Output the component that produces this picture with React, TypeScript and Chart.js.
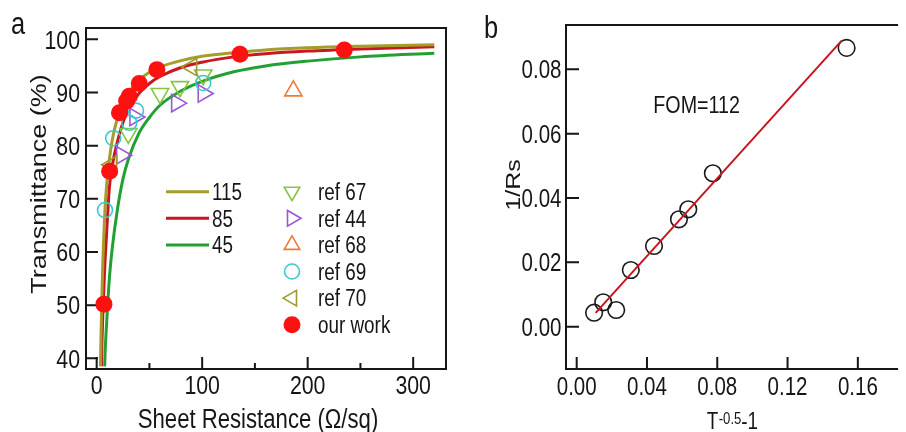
import React, { useEffect, useRef } from 'react';
import { Chart, registerables } from 'chart.js';
import { drawPoint } from 'chart.js/helpers';

Chart.register(...registerables);

// ---------- fonts / text ----------
const SX = 0.82;
const FAMILY = "'Liberation Sans', Arial, sans-serif";
const INK = '#161616';

// ---------- panel a data ----------
const aXTicks = [0, 100, 200, 300];
const aXTickLabels = ['0', '100', '200', '300'];
const aXMinorTicks = [50, 150, 250];
const aYTicks = [40, 50, 60, 70, 80, 90, 100];
const aYTickLabels = ['40', '50', '60', '70', '80', '90', '100'];

const curve115R = [3.6, 4.2, 5, 6, 7, 8, 10, 12, 15, 20, 25, 30, 40, 50, 60, 80, 100, 130, 160, 200, 250, 320];
const curve115T = [38.5, 45, 52, 59, 64, 68.5, 73.8, 77.4, 81.3, 85.4, 88.1, 89.9, 92.3, 93.8, 94.8, 96.0, 96.8, 97.5, 98.0, 98.4, 98.7, 99.0];
const curve85R = [4.5, 5, 6, 7, 8, 10, 12, 15, 20, 25, 30, 40, 50, 60, 80, 100, 130, 160, 200, 250, 320];
const curve85T = [38.5, 43, 49, 54, 58.5, 65.5, 72.0, 76.5, 81.0, 84.4, 86.7, 89.8, 91.7, 93.0, 94.7, 95.7, 96.7, 97.3, 97.8, 98.2, 98.6];
const curve45R = [7.6, 8, 10, 12, 15, 20, 25, 30, 40, 50, 60, 80, 100, 130, 160, 200, 250, 320];
const curve45T = [38.5, 41, 48.5, 54.9, 61.1, 68.4, 73.8, 77.4, 82.3, 85.3, 87.6, 90.3, 92.1, 93.9, 95.0, 95.9, 96.7, 97.4];

const ref67R = [30, 60, 79, 101];
const ref67T = [82.3, 89.8, 91.1, 93.3];
const ref44R = [23.7, 36.3, 75.8, 101];
const ref44T = [78.2, 85.4, 88.0, 89.8];
const ref68R = [186.4];
const ref68T = [90.3];
const ref69R = [7.9, 15.7, 30.9, 37.3, 101];
const ref69T = [67.9, 81.4, 84.3, 86.6, 91.8];
const ref70R = [14.2, 90];
const ref70T = [76.4, 94.8];
const ourR = [6.9, 12.3, 21.6, 28.4, 30.9, 40.4, 57.1, 135.8, 234.7];
const ourT = [50.2, 75.2, 86.2, 88.4, 89.3, 91.7, 94.3, 97.2, 98.0];

const curveNames = ['115', '85', '45'];
const curveColors = ['#a59c2a', '#c8171e', '#22a032'];

// ---------- panel b data ----------
const bXTicks = [0, 0.04, 0.08, 0.12, 0.16];
const bXTickLabels = ['0.00', '0.04', '0.08', '0.12', '0.16'];
const bYTicks = [0, 0.02, 0.04, 0.06, 0.08];
const bYTickLabels = ['0.00', '0.02', '0.04', '0.06', '0.08'];
const bX = [0.0099, 0.0151, 0.0225, 0.0308, 0.044, 0.0582, 0.0635, 0.0775, 0.1536];
const bY = [0.00435, 0.00758, 0.00519, 0.01762, 0.02508, 0.03338, 0.03649, 0.04768, 0.08665];
const fitX = [0.0108, 0.1508];
const fitY = [0.0043, 0.0889];

const pts = (xs: number[], ys: number[]) => xs.map((x, i) => ({ x, y: ys[i] }));

function txt(ctx: CanvasRenderingContext2D, s: string, x: number, y: number, size: number, align: CanvasTextAlign = 'left', rot = 0) {
  ctx.save();
  ctx.translate(x, y);
  if (rot) {
    ctx.rotate(rot);
    ctx.scale(1, SX);
  } else {
    ctx.scale(SX, 1);
  }
  ctx.font = `${size}px ${FAMILY}`;
  ctx.textAlign = align;
  ctx.textBaseline = 'alphabetic';
  ctx.fillStyle = INK;
  ctx.fillText(s, 0, 0);
  ctx.restore();
}

function txtWidth(ctx: CanvasRenderingContext2D, s: string, size: number) {
  ctx.save();
  ctx.font = `${size}px ${FAMILY}`;
  const w = ctx.measureText(s).width * SX;
  ctx.restore();
  return w;
}

const panelAPlugin = {
  id: 'panelA',
  beforeDatasetsDraw(chart: any) {
    const { ctx, chartArea: ca } = chart;
    const x = chart.scales.x;
    const y = chart.scales.y;
    ctx.save();
    ctx.strokeStyle = INK;
    ctx.lineWidth = 2;
    ctx.strokeRect(ca.left, ca.top, ca.right - ca.left, ca.bottom - ca.top);
    ctx.beginPath();
    aYTicks.forEach((v) => {
      const py = y.getPixelForValue(v);
      ctx.moveTo(ca.left, py);
      ctx.lineTo(ca.left + 12, py);
    });
    aXTicks.forEach((v) => {
      const px = x.getPixelForValue(v);
      ctx.moveTo(px, ca.bottom);
      ctx.lineTo(px, ca.bottom - 12);
    });
    aXMinorTicks.forEach((v) => {
      const px = x.getPixelForValue(v);
      ctx.moveTo(px, ca.bottom);
      ctx.lineTo(px, ca.bottom - 6);
    });
    ctx.stroke();
    ctx.restore();

    aYTicks.forEach((v, i) => txt(ctx, aYTickLabels[i], ca.left - 6, y.getPixelForValue(v) + 9.3, 26, 'right'));
    aXTicks.forEach((v, i) => txt(ctx, aXTickLabels[i], x.getPixelForValue(v), 393.5, 26, 'center'));
    txt(ctx, 'Sheet Resistance (\u03A9/sq)', 258, 427.5, 27, 'center');
    txt(ctx, 'Transmittance (%)', 46, 184, 27, 'center', -Math.PI / 2);
    txt(ctx, 'a', 11, 34, 31, 'left');
  },
  afterDatasetsDraw(chart: any) {
    const { ctx } = chart;
    const y0 = 191.7;
    const dy = 26.6;
    ctx.save();
    curveNames.forEach((n, i) => {
      const yy = y0 + i * dy;
      ctx.strokeStyle = curveColors[i];
      ctx.lineWidth = 3;
      ctx.beginPath();
      ctx.moveTo(166, yy);
      ctx.lineTo(209, yy);
      ctx.stroke();
      txt(ctx, n, 212, yy + 8.3, 23, 'left');
    });
    const markerSets = chart.data.datasets.filter((d: any) => d.legendRow !== undefined);
    markerSets.sort((a: any, b: any) => a.legendRow - b.legendRow);
    markerSets.forEach((d: any) => {
      const yy = y0 + d.legendRow * dy;
      ctx.save();
      ctx.fillStyle = d.backgroundColor;
      ctx.strokeStyle = d.borderColor;
      ctx.lineWidth = d.borderWidth;
      drawPoint(ctx, { pointStyle: d.pointStyle, rotation: d.rotation || 0, radius: d.legendRadius, borderWidth: d.borderWidth }, 292, yy);
      ctx.restore();
      txt(ctx, d.label, 318, yy + 8.3, 23, 'left');
    });
    ctx.restore();
  },
};

const panelBPlugin = {
  id: 'panelB',
  beforeDatasetsDraw(chart: any) {
    const { ctx, chartArea: ca } = chart;
    const x = chart.scales.x;
    const y = chart.scales.y;
    ctx.save();
    ctx.strokeStyle = INK;
    ctx.lineWidth = 2;
    ctx.beginPath();
    ctx.moveTo(ca.right + 2, ca.top);
    ctx.lineTo(ca.left, ca.top);
    ctx.lineTo(ca.left, ca.bottom);
    ctx.lineTo(ca.right + 2, ca.bottom);
    bYTicks.forEach((v) => {
      const py = y.getPixelForValue(v);
      ctx.moveTo(ca.left, py);
      ctx.lineTo(ca.left + 13, py);
    });
    bXTicks.forEach((v) => {
      const px = x.getPixelForValue(v);
      ctx.moveTo(px, ca.bottom);
      ctx.lineTo(px, ca.bottom - 12);
    });
    ctx.stroke();
    ctx.restore();

    bYTicks.forEach((v, i) => txt(ctx, bYTickLabels[i], ca.left - 4.5, y.getPixelForValue(v) + 9, 25, 'right'));
    bXTicks.forEach((v, i) => txt(ctx, bXTickLabels[i], x.getPixelForValue(v), 395, 25, 'center'));
    // x title with superscript
    let tx = 246.7;
    txt(ctx, 'T', tx, 429.3, 23, 'left');
    tx += txtWidth(ctx, 'T', 23) + 0.5;
    txt(ctx, '-0.5', tx, 423.5, 16, 'left');
    tx += txtWidth(ctx, '-0.5', 16);
    txt(ctx, '-1', tx, 429.3, 23, 'left');
    txt(ctx, '1/Rs', 59.5, 185, 25, 'center', -Math.PI / 2);
    txt(ctx, 'FOM=112', 193.3, 113.3, 24, 'left');
    txt(ctx, 'b', 24, 38, 31, 'left');
  },
};

export default function App() {
  const refA = useRef<HTMLCanvasElement>(null);
  const refB = useRef<HTMLCanvasElement>(null);

  useEffect(() => {
    const curveDs = (i: number, r: number[], t: number[]) => ({
      label: curveNames[i],
      data: pts(r, t),
      showLine: true,
      borderColor: curveColors[i],
      backgroundColor: curveColors[i],
      borderWidth: 3,
      pointRadius: 0,
      cubicInterpolationMode: 'monotone',
    });
    const markerDs = (label: string, r: number[], t: number[], color: string, style: string, rotation: number, radius: number, row: number, fill = 'rgba(0,0,0,0)', bw = 1.6) => ({
      label,
      data: pts(r, t),
      showLine: false,
      pointStyle: style,
      rotation,
      pointRotation: rotation,
      pointRadius: radius,
      legendRadius: style === 'triangle' ? radius - 1 : radius,
      borderColor: color,
      backgroundColor: fill,
      pointBackgroundColor: fill,
      pointBorderColor: color,
      borderWidth: bw,
      pointBorderWidth: bw,
      legendRow: row,
    });

    const chartA = new Chart(refA.current!, {
      type: 'scatter',
      data: {
        datasets: [
          markerDs('our work', ourR, ourT, '#ff1111', 'circle', 0, 8.5, 8, '#ff1111', 0),
          markerDs('ref 70', ref70R, ref70T, '#9d9a2e', 'triangle', 270, 10, 7),
          markerDs('ref 69', ref69R, ref69T, '#3fc6cf', 'circle', 0, 7.5, 6),
          markerDs('ref 68', ref68R, ref68T, '#ef7a38', 'triangle', 0, 10, 5),
          markerDs('ref 44', ref44R, ref44T, '#9a57d8', 'triangle', 90, 10, 4),
          markerDs('ref 67', ref67R, ref67T, '#86c540', 'triangle', 180, 10, 3),
          curveDs(0, curve115R, curve115T),
          curveDs(1, curve85R, curve85T),
          curveDs(2, curve45R, curve45T),
        ].map((d: any) => (d.legendRow !== undefined ? { ...d, legendRow: d.legendRow - 3 } : d)) as any,
      },
      options: {
        responsive: false,
        animation: false,
        events: [],
        layout: { padding: { left: 86, right: 14, top: 28, bottom: 63 } },
        plugins: { legend: { display: false }, tooltip: { enabled: false } },
        scales: {
          x: { type: 'linear', display: false, min: -10.1, max: 331.1 },
          y: { type: 'linear', display: false, min: 38.0, max: 102.13 },
        },
      } as any,
      plugins: [panelAPlugin],
    });

    const chartB = new Chart(refB.current!, {
      type: 'scatter',
      data: {
        datasets: [
          {
            label: 'fit',
            data: pts(fitX, fitY),
            showLine: true,
            borderColor: '#c8161d',
            borderWidth: 2,
            pointRadius: 0,
          },
          {
            label: '1/Rs',
            data: pts(bX, bY),
            showLine: false,
            pointStyle: 'circle',
            pointRadius: 8.3,
            pointBorderColor: '#1a1a1a',
            pointBackgroundColor: 'rgba(0,0,0,0)',
            pointBorderWidth: 1.6,
          },
        ] as any,
      },
      options: {
        responsive: false,
        animation: false,
        events: [],
        layout: { padding: { left: 106, right: 0, top: 25, bottom: 63 } },
        plugins: { legend: { display: false }, tooltip: { enabled: false } },
        scales: {
          x: { type: 'linear', display: false, min: -0.00608, max: 0.18177 },
          y: { type: 'linear', display: false, min: -0.01315, max: 0.09377 },
        },
      } as any,
      plugins: [panelBPlugin],
    });

    return () => {
      chartA.destroy();
      chartB.destroy();
    };
  }, []);

  return (
    <div style={{ position: 'fixed', left: 0, top: 0, width: 906, height: 432, background: '#ffffff', overflow: 'hidden' }}>
      <canvas ref={refA} width={460} height={432} style={{ position: 'absolute', left: 0, top: 0, width: 460, height: 432 }} />
      <canvas ref={refB} width={446} height={432} style={{ position: 'absolute', left: 460, top: 0, width: 446, height: 432 }} />
    </div>
  );
}
